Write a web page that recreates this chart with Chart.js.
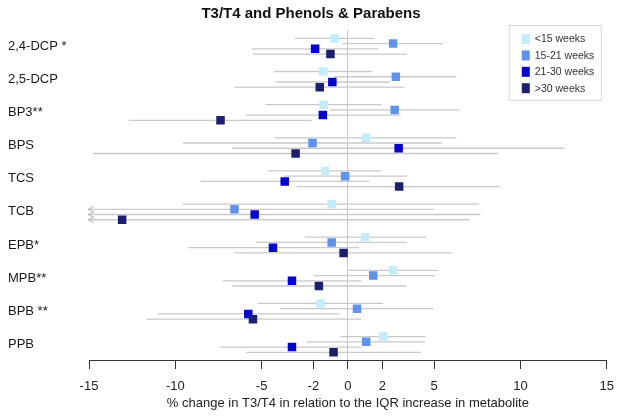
<!DOCTYPE html>
<html>
<head>
<meta charset="utf-8">
<script src="https://cdn.jsdelivr.net/npm/chart.js@4/dist/chart.umd.min.js"></script>
<style>
  html, body { margin: 0; padding: 0; background: #fff; }
  #wrap { width: 624px; height: 416px; position: relative; }
</style>
</head>
<body>
<div id="wrap"><canvas id="c" width="624" height="416"></canvas></div>
<script>
// ---- data ----
const categories = ["2,4-DCP *", "2,5-DCP", "BP3**", "BPS", "TCS", "TCB", "EPB*", "MPB**", "BPB **", "PPB"];
const seriesLabels = ["<15 weeks", "15-21 weeks", "21-30 weeks", ">30 weeks"];
const xTickValues = [-15, -10, -5, -2, 0, 2, 5, 10, 15];

const estLt15 = [-0.78, -1.43, -1.40, 1.06, -1.31, -0.94, 0.99, 2.62, -1.59, 2.05];
const lowLt15 = [-3.08, -4.28, -4.76, -4.23, -4.62, -9.56, -2.51, 0.02, -5.22, -0.44];
const highLt15 = [1.52, 1.40, 1.98, 6.28, 1.93, 7.61, 4.51, 5.20, 2.05, 4.51];

const est15to21 = [2.62, 2.78, 2.71, -2.05, -0.16, -6.57, -0.94, 1.47, 0.53, 1.06];
const low15to21 = [-0.32, -0.80, -1.05, -9.56, -3.72, -15, -5.31, -1.98, -3.93, -2.39];
const high15to21 = [5.50, 6.28, 6.48, 5.47, 3.43, 4.97, 3.43, 5.03, 4.97, 4.46];

const est21to30 = [-1.90, -0.90, -1.45, 2.94, -3.66, -5.40, -4.34, -3.24, -5.77, -3.24];
const low21to30 = [-5.56, -4.18, -5.91, -6.69, -8.53, -15, -9.24, -7.26, -11.01, -7.40];
const high21to30 = [1.75, 2.43, 3.06, 12.55, 1.24, 7.68, 0.64, 0.78, -0.48, 0.78];

const estGt30 = [-1.01, -1.63, -7.38, -3.03, 2.97, -13.08, -0.25, -1.68, -5.50, -0.83];
const lowGt30 = [-5.50, -6.57, -12.70, -14.78, -2.97, -15, -6.57, -6.69, -11.66, -5.89];
const highGt30 = [3.43, 3.24, -2.10, 8.71, 8.83, 7.03, 6.07, 3.40, 0.76, 4.23];

// truncated lower bounds (arrow) where the interval runs past the axis minimum
const truncatedLowLt15 = [false, false, false, false, false, false, false, false, false, false];
const truncatedLow15to21 = [false, false, false, false, false, true, false, false, false, false];
const truncatedLow21to30 = [false, false, false, false, false, true, false, false, false, false];
const truncatedLowGt30 = [false, false, false, false, false, true, false, false, false, false];

// ---- styles ----
const colors = ["#c4ecfb", "#5f93ea", "#0505cc", "#1b1f6e"];
const ciColor = "#c9c9c9";
const OFFSET = 0.158;
const FONT = "'Liberation Sans', Arial, sans-serif";

const series = [
  {est: estLt15, low: lowLt15, high: highLt15, trunc: truncatedLowLt15},
  {est: est15to21, low: low15to21, high: high15to21, trunc: truncatedLow15to21},
  {est: est21to30, low: low21to30, high: high21to30, trunc: truncatedLow21to30},
  {est: estGt30, low: lowGt30, high: highGt30, trunc: truncatedLowGt30}
];

function chevron() {
  const c = document.createElement('canvas');
  c.width = 12; c.height = 8;
  const g = c.getContext('2d');
  g.strokeStyle = '#b0b0b0';
  g.lineWidth = 1;
  g.beginPath();
  g.moveTo(11, 1); g.lineTo(5, 4); g.lineTo(11, 7);
  g.stroke();
  return c;
}
const chev = chevron();

const datasets = [];
series.forEach((s, j) => {
  const pts = [];
  categories.forEach((c, i) => {
    const y = i + (j - 1.5) * OFFSET;
    pts.push({x: s.low[i], y: y, trunc: s.trunc[i]});
    pts.push({x: s.high[i], y: y});
    pts.push({x: null, y: null});
  });
  datasets.push({
    type: 'line',
    label: seriesLabels[j] + ' CI',
    isCI: true,
    data: pts,
    borderColor: ciColor,
    borderWidth: 1.3,
    spanGaps: false,
    pointRadius: (ctx) => (ctx.raw && ctx.raw.trunc ? 4 : 0),
    pointStyle: (ctx) => (ctx.raw && ctx.raw.trunc ? chev : 'circle'),
    pointHoverRadius: 0,
    clip: 8,
    order: 20
  });
});
series.forEach((s, j) => {
  datasets.push({
    type: 'scatter',
    label: seriesLabels[j],
    data: categories.map((c, i) => ({x: s.est[i], y: i + (j - 1.5) * OFFSET})),
    backgroundColor: colors[j],
    borderColor: colors[j],
    borderWidth: 0,
    pointStyle: 'rect',
    pointRadius: 6,
    pointHoverRadius: 6,
    order: 4 - j
  });
});

const legendPlugin = {
  id: 'insetLegend',
  afterDraw(chart) {
    const ctx = chart.ctx;
    const area = chart.chartArea;
    const items = chart.data.datasets.filter(d => !d.isCI);
    const w = 92, h = 75;
    const x0 = area.right - 98, y0 = area.top - 5;
    ctx.save();
    ctx.fillStyle = '#ffffff';
    ctx.fillRect(x0, y0, w, h);
    ctx.strokeStyle = '#d9d9d9';
    ctx.lineWidth = 1;
    ctx.strokeRect(x0 + 0.5, y0 + 0.5, w, h);
    ctx.font = "10.5px " + FONT;
    ctx.textBaseline = 'middle';
    items.forEach((d, k) => {
      const cy = y0 + 14 + k * 16.4;
      ctx.fillStyle = d.backgroundColor;
      ctx.fillRect(x0 + 13, cy - 5, 8, 10);
      ctx.fillStyle = '#333';
      ctx.fillText(d.label, x0 + 26, cy + 0.5);
    });
    ctx.restore();
  }
};

new Chart(document.getElementById('c'), {
  data: {datasets: datasets},
  plugins: [legendPlugin],
  options: {
    responsive: false,
    animation: false,
    events: [],
    layout: {padding: {left: 8, right: 10, top: 0, bottom: 0}},
    plugins: {
      legend: {display: false},
      tooltip: {enabled: false},
      title: {
        display: true,
        text: 'T3/T4 and Phenols & Parabens',
        color: '#111',
        font: {family: FONT, size: 15, weight: 'bold'},
        padding: {top: 5, bottom: 7}
      }
    },
    scales: {
      x: {
        type: 'linear',
        min: -15, max: 15,
        afterBuildTicks: (scale) => { scale.ticks = xTickValues.map(v => ({value: v})); },
        afterFit: (scale) => { scale.height = 56; },
        ticks: {
          color: '#222',
          font: {family: FONT, size: 13},
          padding: 10,
          maxRotation: 0,
          autoSkip: false
        },
        grid: {
          color: (ctx) => (ctx.tick && ctx.tick.value === 0 ? '#c8c8c8' : 'rgba(0,0,0,0)'),
          lineWidth: 1,
          drawTicks: true,
          tickLength: 9,
          tickColor: '#333',
          tickWidth: 1
        },
        border: {display: true, color: '#333', width: 1},
        title: {
          display: true,
          text: '% change in T3/T4 in relation to the IQR increase in metabolite',
          color: '#222',
          font: {family: FONT, size: 13},
          padding: {top: 0, bottom: 5}
        }
      },
      y: {
        type: 'linear',
        reverse: true,
        min: -0.49, max: 9.47,
        afterBuildTicks: (scale) => { scale.ticks = categories.map((c, i) => ({value: i})); },
        afterFit: (scale) => { scale.width = 81; },
        ticks: {
          callback: (v) => categories[v],
          color: '#1a1a1a',
          font: {family: FONT, size: 13},
          crossAlign: 'far',
          autoSkip: false,
          padding: 4
        },
        grid: {display: false, drawTicks: false},
        border: {display: false}
      }
    }
  }
});
</script>
</body>
</html>
